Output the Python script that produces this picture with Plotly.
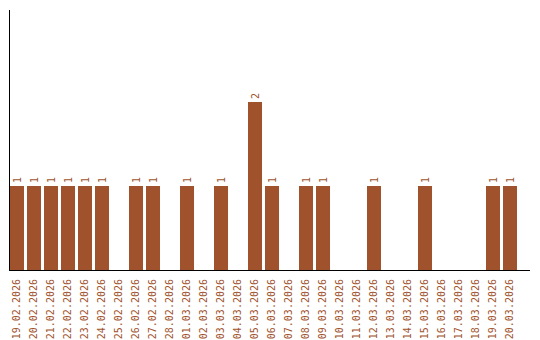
import plotly.graph_objects as go

dates = ["19.02.2026","20.02.2026","21.02.2026","22.02.2026","23.02.2026","24.02.2026",
         "25.02.2026","26.02.2026","27.02.2026","28.02.2026","01.03.2026","02.03.2026",
         "03.03.2026","04.03.2026","05.03.2026","06.03.2026","07.03.2026","08.03.2026",
         "09.03.2026","10.03.2026","11.03.2026","12.03.2026","13.03.2026","14.03.2026",
         "15.03.2026","16.03.2026","17.03.2026","18.03.2026","19.03.2026","20.03.2026"]
values = [1,1,1,1,1,1,0,1,1,0,1,0,1,0,2,1,0,1,1,0,0,1,0,0,1,0,0,0,1,1]

color = "#A0522D"
labels = [str(v) if v > 0 else "" for v in values]

fig = go.Figure(go.Bar(
    x=dates, y=values, marker_color=color, marker_line_width=0,
    text=labels, textposition="outside", textangle=-90,
    textfont=dict(family="DejaVu Sans Mono", size=10, color=color),
    cliponaxis=False,
))
fig.update_layout(
    width=540, height=340, margin=dict(l=10, r=10, t=10, b=70),
    plot_bgcolor="white", paper_bgcolor="white", bargap=0.176, showlegend=False,
)
fig.update_xaxes(type="category", tickangle=-90, showline=True, linecolor="black", linewidth=1,
                 range=[-0.412, 30.176], automargin=False,
                 tickfont=dict(family="DejaVu Sans Mono", size=10, color=color),
                 ticks="outside", ticklen=4, tickcolor="rgba(0,0,0,0)", showgrid=False)
fig.update_yaxes(range=[0, 3.095], showline=True, linecolor="black", linewidth=1,
                 showticklabels=False, showgrid=False, zeroline=False, ticks="", automargin=False)
fig.write_html("out.html")
